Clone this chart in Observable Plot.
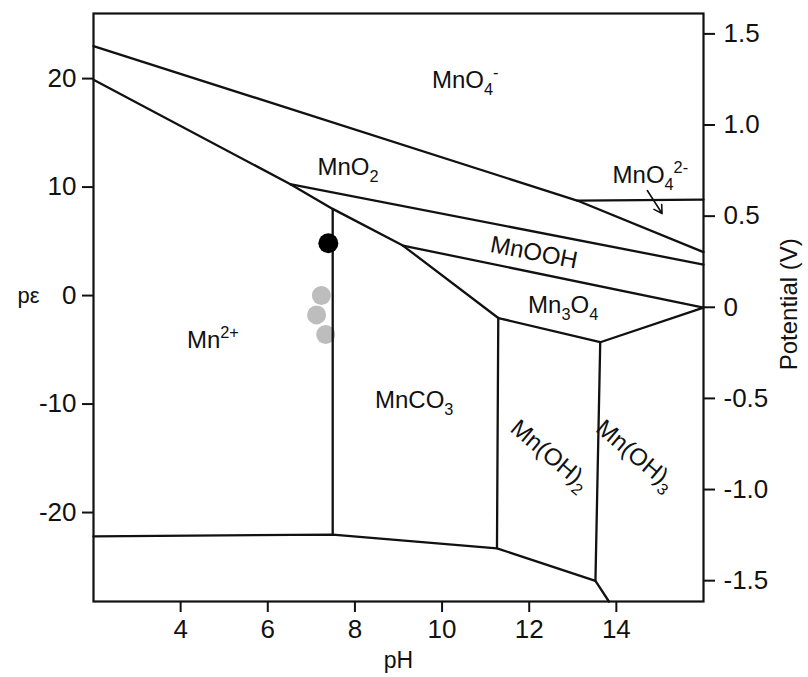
<!DOCTYPE html>
<html><head><meta charset="utf-8">
<script src="https://cdn.jsdelivr.net/npm/d3@7"></script>
<script src="https://cdn.jsdelivr.net/npm/@observablehq/plot@0.6"></script>
<style>body{margin:0;background:#fff} svg{font-family:"Liberation Sans",Arial,sans-serif}</style>
</head><body><div id="chart"></div>
<script>
// Tick values
const phTicks = [4, 6, 8, 10, 12, 14];
const peTicks = [-20, -10, 0, 10, 20];
const potentialTicks = [-1.5, -1.0, -0.5, 0, 0.5, 1.0, 1.5];

// Boundary lines as [pH, pε] vertices
const lineMnO4 = [[2, 23.0], [13.1, 8.76], [16, 4.0]];
const lineMnO4b = [[13.1, 8.76], [16, 8.85]];
const lineMn2 = [[2, 19.9], [6.51, 10.28], [7.49, 7.99], [9.10, 4.61], [11.29, -2.07]];
const lineMnO2 = [[6.51, 10.28], [16, 2.86]];
const lineMnOOH = [[9.10, 4.61], [16, -1.11]];
const lineMn3O4 = [[11.29, -2.07], [13.63, -4.30], [16, -1.11]];
const lineMnCO3 = [[7.49, 7.99], [7.49, -22.03]];
const lineBottom = [[2, -22.2], [7.49, -22.03], [11.26, -23.3], [13.52, -26.3], [13.83, -28.2]];
const lineOH2 = [[11.29, -2.07], [11.26, -23.3]];
const lineOH3 = [[13.63, -4.30], [13.52, -26.3]];
const boundaries = [lineMnO4, lineMnO4b, lineMn2, lineMnO2, lineMnOOH, lineMn3O4, lineMnCO3, lineBottom, lineOH2, lineOH3];

// Samples
const blackPH = [7.39];
const blackPE = [4.82];
const grayPH = [7.23, 7.12, 7.33];
const grayPE = [0.0, -1.78, -3.59];

// Region labels
const labelText = ["MnO_{4}^{-}", "MnO_{2}", "MnO_{4}^{2-}", "MnOOH", "Mn_{3}O_{4}", "Mn^{2+}", "MnCO_{3}", "Mn(OH)_{2}", "Mn(OH)_{3}"];
const labelPH = [10.53, 7.84, 14.78, 12.11, 12.78, 4.74, 9.36, 12.48, 14.44];
const labelPE = [19.8, 11.8, 11.06, 3.96, -0.92, -4.15, -9.68, -14.7, -14.7];
const labelRotate = [0, 0, 0, 11, 0, 0, 0, 40, 40];

// Arrow pointing into MnO4 2- field
const arrowPH = [14.71, 15.05];
const arrowPE = [9.68, 7.56];

// Potential axis placement in pε units
const vToPe = v => v * 16.8 - 1.08;

const labels = labelText.map((t, i) => ({t, x: labelPH[i], y: labelPE[i], r: labelRotate[i]}));
const ink = "#111";

const marks = [
  Plot.dot(grayPH.map((x, i) => ({x, y: grayPE[i]})), {x: "x", y: "y", r: 9.5, fill: "#bdbdbd"}),
  ...boundaries.map(b => Plot.line(b, {x: d => d[0], y: d => d[1], stroke: ink, strokeWidth: 2.3})),
  Plot.dot(blackPH.map((x, i) => ({x, y: blackPE[i]})), {x: "x", y: "y", r: 10, fill: "#000"}),
  Plot.arrow([0], {x1: arrowPH[0], y1: arrowPE[0], x2: arrowPH[1], y2: arrowPE[1], stroke: ink, strokeWidth: 1.6, headLength: 9}),
  Plot.text(labels, {x: "x", y: "y", text: "t", rotate: "r", fontSize: 24, fill: ink}),
  Plot.frame({stroke: ink, strokeWidth: 2.2}),
  Plot.axisX({ticks: phTicks, tickSize: 11, tickPadding: 7, strokeWidth: 2, label: null, fontSize: 26, tickFormat: d => String(d), fill: ink}),
  Plot.axisY({ticks: peTicks, anchor: "left", tickSize: 11, tickPadding: 6, strokeWidth: 2, label: null, fontSize: 26, tickFormat: d => String(d), fill: ink}),
  Plot.axisY({ticks: potentialTicks.map(vToPe), anchor: "right", tickSize: 11, tickPadding: 9, strokeWidth: 2, label: null, fontSize: 26, fill: ink,
    tickFormat: d => { const v = Math.round((d + 1.08) / 16.8 * 10) / 10; return v === 0 ? "0" : v.toFixed(1); }}),
  Plot.text(["pH"], {x: 9, y: -28.2, dy: 59, fontSize: 23, fill: ink}),
  Plot.text(["pε"], {x: 2, y: 0, dx: -65, fontSize: 22, fill: ink}),
  Plot.text(["Potential (V)"], {x: 16, y: -0.8, dx: 86, rotate: -90, fontSize: 24, fill: ink})
];

const chart = Plot.plot({
  width: 808, height: 677,
  marginLeft: 93, marginRight: 105, marginTop: 13, marginBottom: 76,
  x: {domain: [2, 16]},
  y: {domain: [-28.2, 26]},
  style: {fontFamily: '"Liberation Sans", Arial, sans-serif', background: "#fff", color: ink},
  marks
});

// Convert _{..} and ^{..} markup to sub/superscript tspans
d3.select(chart).selectAll("text").each(function() {
  const s = this.textContent;
  if (!/[_^]\{/.test(s)) return;
  const fs = parseFloat(getComputedStyle(this).fontSize) || 24;
  const parts = [];
  const re = /([_^])\{([^}]*)\}|([^_^]+)/g;
  let m;
  while ((m = re.exec(s))) {
    if (m[3]) parts.push({t: m[3], k: 0});
    else parts.push({t: m[2], k: m[1] === "_" ? 1 : -1});
  }
  const el = d3.select(this);
  el.text(null);
  let cur = 0;
  for (const p of parts) {
    const want = p.k === 1 ? 0.28 * fs : p.k === -1 ? -0.42 * fs : 0;
    const ts = el.append("tspan").text(p.t).attr("dy", (want - cur) + "px");
    if (p.k !== 0) ts.attr("font-size", (0.68 * fs) + "px");
    cur = want;
  }
});

document.getElementById("chart").appendChild(chart);
</script></body></html>
